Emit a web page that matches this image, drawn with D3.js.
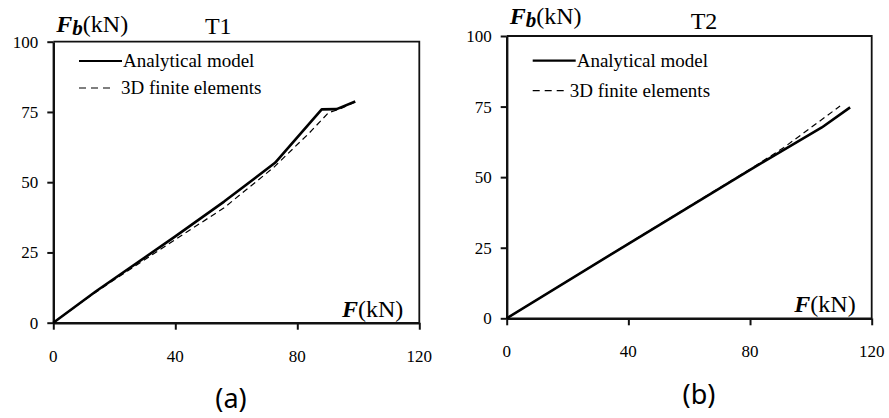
<!DOCTYPE html>
<html>
  <head>
    <meta charset="utf-8">
    <title>T1 / T2 load curves</title>
    <style media="screen">
      body { margin: 0; background: #fff; }
      svg text { font-family: "Liberation Serif", "DejaVu Serif", serif; fill: #000; }
      .tick-label { font-size: 17px; }
      .legend-label { font-size: 19px; }
      .caption { font-family: "Noto Sans", "Open Sans", sans-serif !important; font-size: 27px; }
    </style>
  </head>
  <body>
    <div id="chart"></div>
  </body>
  <script type="text/javascript" src="https://cdnjs.cloudflare.com/ajax/libs/d3/7.8.5/d3.min.js"></script>
  <script type="text/javascript">
  // values (F and Fb in kN)
  var xTicks = [0, 40, 80, 120];
  var yTicks = [0, 25, 50, 75, 100];
  var legendNames = ['Analytical model', '3D finite elements'];

  var t1AnalyticalF  = [0, 14, 40, 56, 72.7, 88.0, 92.9, 99.0];
  var t1AnalyticalFb = [0, 11.2, 30.7, 43.1, 56.9, 75.9, 76.0, 78.7];
  var t1FiniteF  = [0, 10, 20, 40, 56, 72.3, 84, 90.2, 94, 99.0];
  var t1FiniteFb = [0, 7.9, 15.3, 29.6, 40.9, 55.3, 67.6, 74.7, 76.1, 78.6];

  var t2AnalyticalF  = [0, 40, 80, 103.6, 112.9];
  var t2AnalyticalFb = [0, 26.4, 52.6, 67.6, 74.7];
  var t2FiniteF  = [0, 40, 80, 91, 102.6, 109.6];
  var t2FiniteFb = [0, 26.5, 52.8, 60.4, 69.6, 75.2];

  var axisColor = '#111';
  var svg = d3.select('#chart').append('svg').attr('width', 889).attr('height', 418);

  function zip(xs, ys) {
    return xs.map(function(x, i) { return [x, ys[i]]; });
  }

  function drawPanel(p) {
    var x = d3.scaleLinear().domain([0, 120]).range([p.left, p.right]);
    var y = d3.scaleLinear().domain([0, 100]).range([p.bottom, p.top]);
    var g = svg.append('g');

    // box top + right
    g.append('path')
      .attr('d', 'M' + x(0) + ',' + y(100) + 'H' + x(120) + 'V' + y(0))
      .attr('fill', 'none').attr('stroke', axisColor).attr('stroke-width', 1.8);

    var xAxis = g.append('g').attr('transform', 'translate(0,' + y(0) + ')')
      .call(d3.axisBottom(x).tickValues(xTicks).tickSize(7).tickSizeOuter(0).tickFormat(''));
    var yAxis = g.append('g').attr('transform', 'translate(' + x(0) + ',0)')
      .call(d3.axisLeft(y).tickValues(yTicks).tickSize(6).tickSizeOuter(0).tickFormat(''));
    [xAxis, yAxis].forEach(function(a) {
      a.select('.domain').attr('stroke', axisColor).attr('stroke-width', 2.4);
      a.selectAll('.tick line').attr('stroke', axisColor).attr('stroke-width', 2);
    });

    g.selectAll('.xlab').data(xTicks).enter().append('text')
      .attr('class', 'tick-label')
      .attr('x', function(d) { return x(d); })
      .attr('y', p.bottom + 39)
      .attr('text-anchor', 'middle')
      .text(function(d) { return d; });
    g.selectAll('.ylab').data(yTicks).enter().append('text')
      .attr('class', 'tick-label')
      .attr('x', p.left - 15)
      .attr('y', function(d) { return y(d) + 6; })
      .attr('text-anchor', 'end')
      .text(function(d) { return d; });

    var line = d3.line().x(function(d) { return x(d[0]); }).y(function(d) { return y(d[1]); });
    g.append('path').datum(p.finite).attr('d', line)
      .attr('fill', 'none').attr('stroke', '#000').attr('stroke-width', 1.2)
      .attr('stroke-dasharray', '6,4');
    g.append('path').datum(p.analytical).attr('d', line)
      .attr('fill', 'none').attr('stroke', '#000').attr('stroke-width', 2.6)
      .attr('stroke-linejoin', 'round');

    // legend
    g.append('line').attr('x1', p.lx).attr('x2', p.lx + 43)
      .attr('y1', p.ly1).attr('y2', p.ly1)
      .attr('stroke', '#000').attr('stroke-width', 2.2);
    g.append('text').attr('class', 'legend-label')
      .attr('x', p.lx + 44).attr('y', p.ly1 + 6).text(legendNames[0]);
    g.append('line').attr('x1', p.lx).attr('x2', p.lx + 33)
      .attr('y1', p.ly2).attr('y2', p.ly2)
      .attr('stroke', '#000').attr('stroke-width', 1.2)
      .attr('stroke-dasharray', '7,5');
    g.append('text').attr('class', 'legend-label')
      .attr('x', p.lx + p.lt2).attr('y', p.ly2 + 6).text(legendNames[1]);

    // axis names and title
    var yl = g.append('text').attr('x', p.left + 3).attr('y', p.yLabelY).style('font-size', '24px');
    yl.append('tspan').style('font-weight', 'bold').style('font-style', 'italic').text('F');
    yl.append('tspan').style('font-weight', 'bold').style('font-style', 'italic')
      .attr('dy', 3).style('font-size', '21px').text('b');
    yl.append('tspan').attr('dy', -3).text('(kN)');

    var xl = g.append('text').attr('x', p.right - 16).attr('y', p.bottom - 6)
      .attr('text-anchor', 'end').style('font-size', '24px');
    xl.append('tspan').style('font-weight', 'bold').style('font-style', 'italic').text('F');
    xl.append('tspan').text('(kN)');

    g.append('text').attr('x', p.titleX).attr('y', p.titleY)
      .attr('text-anchor', 'middle').style('font-size', '24px').text(p.title);

    g.append('text').attr('class', 'caption')
      .attr('x', p.capX).attr('y', p.capY)
      .attr('text-anchor', 'middle').text(p.caption);
  }

  drawPanel({
    left: 53.3, right: 419.3, top: 41.7, bottom: 322.7,
    analytical: zip(t1AnalyticalF, t1AnalyticalFb),
    finite: zip(t1FiniteF, t1FiniteFb),
    lx: 79, ly1: 61, ly2: 88, lt2: 42,
    yLabelY: 32, titleX: 218.3, titleY: 34, title: 'T1',
    capX: 231, capY: 408, caption: '(a)'
  });

  drawPanel({
    left: 506.7, right: 871.7, top: 36, bottom: 318.3,
    analytical: zip(t2AnalyticalF, t2AnalyticalFb),
    finite: zip(t2FiniteF, t2FiniteFb),
    lx: 532.7, ly1: 60.7, ly2: 90.7, lt2: 37,
    yLabelY: 24, titleX: 704, titleY: 29, title: 'T2',
    capX: 699, capY: 404, caption: '(b)'
  });
  </script>
</html>
